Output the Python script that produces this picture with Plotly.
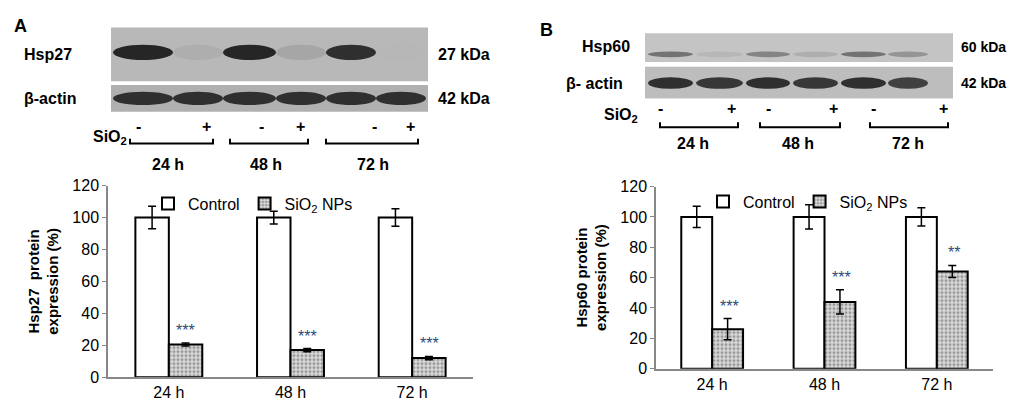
import plotly.graph_objects as go

times = ["24 h", "48 h", "72 h"]
a_ctrl = [100, 100, 100]
a_ctrl_err = [7, 4, 5.5]
a_sio2 = [20.5, 17, 12]
a_sio2_err = [1, 1, 1]
a_stars = ["***", "***", "***"]
b_ctrl = [100, 100, 100]
b_ctrl_err = [7, 8, 6]
b_sio2 = [26, 44, 64]
b_sio2_err = [7, 8, 4]
b_stars = ["***", "***", "**"]
yticks = [0, 20, 40, 60, 80, 100, 120]
# blot band intensities (0..1) per lane
a_hsp27 = [0.95, 0.15, 0.95, 0.2, 0.9, 0.1]
a_actin = [0.9, 0.9, 0.9, 0.9, 0.9, 0.9]
b_hsp60 = [0.5, 0.1, 0.4, 0.15, 0.5, 0.3]
b_actin = [0.9, 0.85, 0.9, 0.85, 0.9, 0.8]

W, H = 1024, 407
F = "Liberation Sans, Arial, sans-serif"
fig = go.Figure()

def px(x): return x / W
def py(y): return 1 - y / H

ann = []
for (c, ce, s, se, stars, xa, ya, lg) in [
        (a_ctrl, a_ctrl_err, a_sio2, a_sio2_err, a_stars, "x", "y", "legend"),
        (b_ctrl, b_ctrl_err, b_sio2, b_sio2_err, b_stars, "x2", "y2", "legend2")]:
    fig.add_bar(x=times, y=c, name="Control", xaxis=xa, yaxis=ya, legend=lg,
                marker=dict(color="white", line=dict(color="black", width=2)),
                error_y=dict(type="data", array=ce, color="black", thickness=1.5, width=4))
    fig.add_bar(x=times, y=s, name="SiO<sub>2</sub> NPs", xaxis=xa, yaxis=ya, legend=lg,
                marker=dict(color="white", line=dict(color="black", width=2),
                            pattern=dict(shape=".", fgcolor="#555", bgcolor="#ddd", size=4, solidity=0.5)),
                error_y=dict(type="data", array=se, color="black", thickness=1.5, width=4))
    for t, v, e, st in zip(times, s, se, stars):
        ann.append(dict(xref=xa, yref=ya, x=t, y=v + e, text=st, showarrow=False, xshift=17,
                        yanchor="bottom", yshift=2, font=dict(color="#2a4a7a", size=16, family=F)))

ax = dict(showline=True, linecolor="#888", linewidth=1.5, ticks="", showgrid=False,
          tickfont=dict(family=F, size=16, color="black"), fixedrange=True)
yax = dict(ax, range=[0, 120], tickvals=yticks, ticks="outside", ticklen=4, tickcolor="#888")
legcommon = dict(orientation="h", xanchor="left", yanchor="top",
                 font=dict(family=F, size=16, color="black"), bgcolor="rgba(0,0,0,0)", traceorder="normal")
fig.update_layout(
    width=W, height=H, margin=dict(l=0, r=0, t=0, b=0),
    paper_bgcolor="white", plot_bgcolor="white", barmode="group", bargap=0.45, bargroupgap=0,
    xaxis=dict(ax, domain=[px(100), px(465)], anchor="y"),
    yaxis=dict(yax, domain=[py(377), py(177)], anchor="x",
               title=dict(text="<b>Hsp27  protein<br>expression (%)</b>", font=dict(family=F, size=15, color="black"), standoff=10)),
    xaxis2=dict(ax, domain=[px(648), px(985)], anchor="y2"),
    yaxis2=dict(yax, domain=[py(368), py(178)], anchor="x2",
                title=dict(text="<b>Hsp60 protein<br>expression (%)</b>", font=dict(family=F, size=15, color="black"), standoff=10)),
    legend=dict(legcommon, x=px(140), y=py(178)),
    legend2=dict(legcommon, x=px(695), y=py(176)),
    showlegend=True,
)

shapes = []
def rect(x0, y0, x1, y1, color):
    shapes.append(dict(type="rect", xref="paper", yref="paper", x0=px(x0), x1=px(x1), y0=py(y1), y1=py(y0),
                       fillcolor=color, line=dict(width=0), layer="below"))
def band(x0, x1, yc, h, inten):
    g = int(200 - 170 * inten)
    shapes.append(dict(type="circle", xref="paper", yref="paper", x0=px(x0), x1=px(x1), y0=py(yc + h/2), y1=py(yc - h/2),
                       fillcolor=f"rgb({g},{g},{g})", line=dict(width=0)))
def txt(x, y, s, size=16, anchor="center", bold=True):
    ann.append(dict(xref="paper", yref="paper", x=px(x), y=py(y), text=f"<b>{s}</b>" if bold else s,
                    showarrow=False, xanchor=anchor, yanchor="middle", font=dict(family=F, size=size, color="black")))
def bracket(x0, x1, y):
    shapes.append(dict(type="path", xref="paper", yref="paper",
                       path=f"M {px(x0)},{py(y-5)} L {px(x0)},{py(y)} L {px(x1)},{py(y)} L {px(x1)},{py(y-5)}",
                       line=dict(color="black", width=2)))

# Panel A blot
rect(103, 12, 420, 68, "#b8b8b8")
rect(103, 72, 420, 100, "#b0b0b0")
la = [(105, 165), (165, 215), (215, 268), (268, 318), (318, 368), (368, 418)]
for (x0, x1), v in zip(la, a_hsp27): band(x0, x1, 38, 16, v)
for (x0, x1), v in zip(la, a_actin): band(x0, x1, 86, 14, v)
txt(4, 10, "A", 18, "left")
txt(14, 40, "Hsp27", 16, "left"); txt(428, 40, "27 kDa", 16, "left")
txt(14, 86, "β-actin", 16, "left"); txt(428, 86, "42 kDa", 16, "left")
txt(83, 127, "SiO<sub>2</sub>", 16, "left")
for x, s in zip([130, 198, 253, 292, 366, 402], ["-", "+", "-", "+", "-", "+"]): txt(x, 115, s, 16)
for x0, x1 in [(122, 205), (222, 300), (318, 410)]: bracket(x0, x1, 133)
for x, s in zip([160, 258, 365], times): txt(x, 155, s, 16)

# Panel B blot
rect(637, 18, 945, 48, "#c4c4c4")
rect(637, 53, 945, 86, "#bdbdbd")
lb = [(640, 685), (688, 735), (738, 782), (785, 830), (833, 878), (880, 920)]
for (x0, x1), v in zip(lb, b_hsp60): band(x0, x1, 40, 6, v)
for (x0, x1), v in zip(lb, b_actin): band(x0, x1, 70, 12, v)
txt(530, 15, "B", 18, "left")
txt(572, 32, "Hsp60", 16, "left"); txt(951, 32, "60 kDa", 14, "left")
txt(556, 70, "β- actin", 16, "left"); txt(951, 70, "42 kDa", 14, "left")
txt(594, 104, "SiO<sub>2</sub>", 16, "left")
for x, s in zip([652, 723, 760, 825, 865, 935], ["-", "+", "-", "+", "-", "+"]): txt(x, 97, s, 16)
for x0, x1 in [(652, 730), (752, 832), (862, 940)]: bracket(x0, x1, 116)
for x, s in zip([685, 790, 900], times): txt(x, 133, s, 16)

fig.update_layout(shapes=shapes, annotations=ann)
fig.write_html("out.html")
